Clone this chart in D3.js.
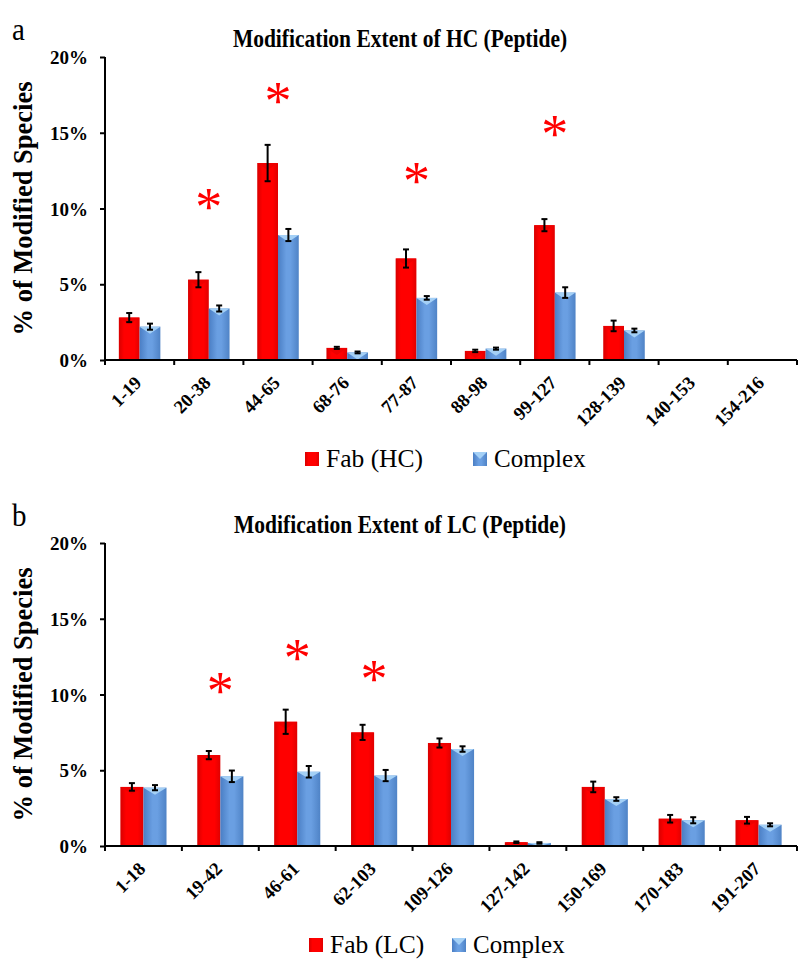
<!DOCTYPE html>
<html><head><meta charset="utf-8">
<script src="https://cdn.jsdelivr.net/npm/d3@7/dist/d3.min.js"></script>
<style>body{margin:0;background:#fff}svg{display:block}</style>
</head><body>
<svg id="c" width="800" height="972"></svg>
<script>
// ---------- data ----------
const hcCategories = ["1-19","20-38","44-65","68-76","77-87","88-98","99-127","128-139","140-153","154-216"];
const hcFab        = [2.8, 5.3, 13.0, 0.8, 6.7, 0.6, 8.9, 2.25, 0, 0];
const hcFabErr     = [0.3, 0.5, 1.2, 0.07, 0.6, 0.08, 0.4, 0.35, 0, 0];
const hcComplex    = [2.2, 3.4, 8.25, 0.5, 4.1, 0.75, 4.45, 1.95, 0, 0];
const hcComplexErr = [0.2, 0.2, 0.4, 0.06, 0.12, 0.07, 0.35, 0.12, 0, 0];
const hcStars      = [{cat:"20-38", y:10.6},{cat:"44-65", y:17.6},{cat:"77-87", y:12.3},{cat:"99-127", y:15.4}];

const lcCategories = ["1-18","19-42","46-61","62-103","109-126","127-142","150-169","170-183","191-207"];
const lcFab        = [3.9, 6.0, 8.2, 7.5, 6.8, 0.25, 3.9, 1.8, 1.7];
const lcFabErr     = [0.25, 0.27, 0.8, 0.5, 0.3, 0.05, 0.35, 0.25, 0.22];
const lcComplex    = [3.85, 4.6, 4.9, 4.65, 6.4, 0.2, 3.1, 1.7, 1.4];
const lcComplexErr = [0.17, 0.38, 0.38, 0.37, 0.18, 0.05, 0.12, 0.2, 0.1];
const lcStars      = [{cat:"19-42", y:10.7},{cat:"46-61", y:12.9},{cat:"62-103", y:11.5}];

const yTicks = [0, 5, 10, 15, 20];
const yTickLabels = ["0%","5%","10%","15%","20%"];
const yAxisTitle = "% of Modified Species";

// ---------- drawing ----------
const svg = d3.select("#c");
const serif = "'Liberation Serif','Times New Roman',serif";
const defs = svg.append("defs");
function hGrad(id, stops){
  const g = defs.append("linearGradient").attr("id", id).attr("x1","0").attr("x2","1").attr("y1","0").attr("y2","0");
  stops.forEach(s => g.append("stop").attr("offset", s[0]).attr("stop-color", s[1]));
}
hGrad("gRed", [["0%","#d80000"],["25%","#ff0000"],["75%","#ff0000"],["100%","#e00000"]]);
hGrad("gBlue", [["0%","#4a7ec4"],["40%","#6a9fe2"],["60%","#6a9fe2"],["100%","#4f83c6"]]);
const series = [
  {key:"fab", fill:"url(#gRed)", facet:"#ee0000"},
  {key:"cx",  fill:"url(#gBlue)", facet:"#a4d0f6"}
];
const starSize = 54;

function panel(o){
  const g = svg.append("g");
  const x = d3.scaleBand().domain(o.cats).range([105, 797]);
  const y = d3.scaleLinear().domain([0, 20]).range([o.y0, o.y0 - 303]);
  const bw = x.bandwidth() * 0.3;

  // panel letter & title
  g.append("text").attr("transform", `translate(12,${o.y0 - 320}) scale(1,1.12)`).attr("font-family", serif)
    .attr("font-size", 29).text(o.letter);
  g.append("text").attr("transform", `translate(400,${o.y0 - 313}) scale(1,1.15)`).attr("text-anchor","middle")
    .attr("font-family", serif).attr("font-weight","bold").attr("font-size", 21.5).text(o.title);

  // bars
  const vals = [o.fab, o.cx];
  const errs = [o.fabErr, o.cxErr];
  series.forEach((s, si) => {
    o.cats.forEach((c, i) => {
      const v = vals[si][i];
      if (!v) return;
      const bx = x(c) + x.bandwidth()/2 - bw + si*bw;
      const top = y(v), h = y(0) - y(v);
      g.append("rect").attr("x", bx).attr("y", top).attr("width", bw).attr("height", h).attr("fill", s.fill);
      const th = Math.min(7, h);
      g.append("path").attr("d", `M${bx},${top}L${bx+bw},${top}L${bx+bw/2},${top+th}Z`).attr("fill", s.facet);
      const e = errs[si][i];
      if (e) {
        const cx = bx + bw/2;
        const eb = g.append("g").attr("stroke","#000").attr("stroke-width",2);
        eb.append("line").attr("x1",cx).attr("x2",cx).attr("y1",y(v+e)).attr("y2",y(v-e));
        eb.append("line").attr("x1",cx-3).attr("x2",cx+3).attr("y1",y(v+e)).attr("y2",y(v+e));
        eb.append("line").attr("x1",cx-3).attr("x2",cx+3).attr("y1",y(v-e)).attr("y2",y(v-e));
      }
    });
  });

  // stars
  o.stars.forEach(s => {
    g.append("text").attr("x", x(s.cat) + x.bandwidth()/2).attr("y", y(s.y) + 0.47*starSize)
      .attr("text-anchor","middle").attr("font-family", serif).attr("font-size", starSize)
      .attr("fill", "#ff0000").text("*");
  });

  // y axis
  const ya = g.append("g").attr("transform", `translate(105,0)`)
    .call(d3.axisLeft(y).tickValues(yTicks).tickFormat((d,i)=>yTickLabels[i]).tickSize(5).tickPadding(12));
  ya.select(".domain").attr("stroke-width", 2).attr("d", `M0,${y(20)}V${y(0)}`);
  ya.selectAll(".tick line").attr("stroke-width", 2);
  ya.selectAll("text").attr("font-family", serif).attr("font-weight","bold").attr("font-size", 19).attr("fill","#000").attr("dy","0.35em");

  g.append("text").attr("transform", `translate(32,${(y(0)+y(20))/2}) rotate(-90)`)
    .attr("text-anchor","middle").attr("font-family", serif).attr("font-weight","bold")
    .attr("font-size", 26.5).text(yAxisTitle);

  // x axis
  const xa = g.append("g").attr("transform", `translate(0,${o.y0})`);
  xa.append("line").attr("x1", 104).attr("x2", 797).attr("stroke","#000").attr("stroke-width",2);
  const bounds = o.cats.map(c => x(c)).concat([797]);
  xa.selectAll("line.t").data(bounds).enter().append("line").attr("class","t")
    .attr("x1", d=>d).attr("x2", d=>d).attr("y1", 0).attr("y2", 5).attr("stroke","#000").attr("stroke-width",2);
  xa.selectAll("text").data(o.cats).enter().append("text")
    .attr("transform", d => `translate(${x(d)+x.bandwidth()/2+3},${24}) rotate(-45)`)
    .attr("text-anchor","end").attr("font-family", serif).attr("font-weight","bold").attr("font-size", 18.5)
    .text(d=>d);

  // legend
  const lg = g.append("g");
  const ly = o.y0 + 92;
  lg.append("rect").attr("x", o.leg[0]).attr("y", ly).attr("width", 14).attr("height", 14).attr("fill","url(#gRed)");
  lg.append("text").attr("x", o.leg[0] + 21).attr("y", ly + 15).attr("font-family", serif).attr("font-size", 25.5).text(o.fabName);
  lg.append("rect").attr("x", o.leg[1]).attr("y", ly).attr("width", 14).attr("height", 14).attr("fill","url(#gBlue)");
  lg.append("path").attr("d", `M${o.leg[1]},${ly}L${o.leg[1]+14},${ly}L${o.leg[1]+7},${ly+7}Z`).attr("fill","#a4d0f6");
  lg.append("text").attr("x", o.leg[1] + 21).attr("y", ly + 15).attr("font-family", serif).attr("font-size", 25).text("Complex");
}

panel({cats:hcCategories, fab:hcFab, fabErr:hcFabErr, cx:hcComplex, cxErr:hcComplexErr, stars:hcStars,
  y0:360, letter:"a", title:"Modification Extent of HC (Peptide)", fabName:"Fab (HC)", leg:[305, 473]});
panel({cats:lcCategories, fab:lcFab, fabErr:lcFabErr, cx:lcComplex, cxErr:lcComplexErr, stars:lcStars,
  y0:846, letter:"b", title:"Modification Extent of LC (Peptide)", fabName:"Fab (LC)", leg:[309, 452]});
</script>
</body></html>
